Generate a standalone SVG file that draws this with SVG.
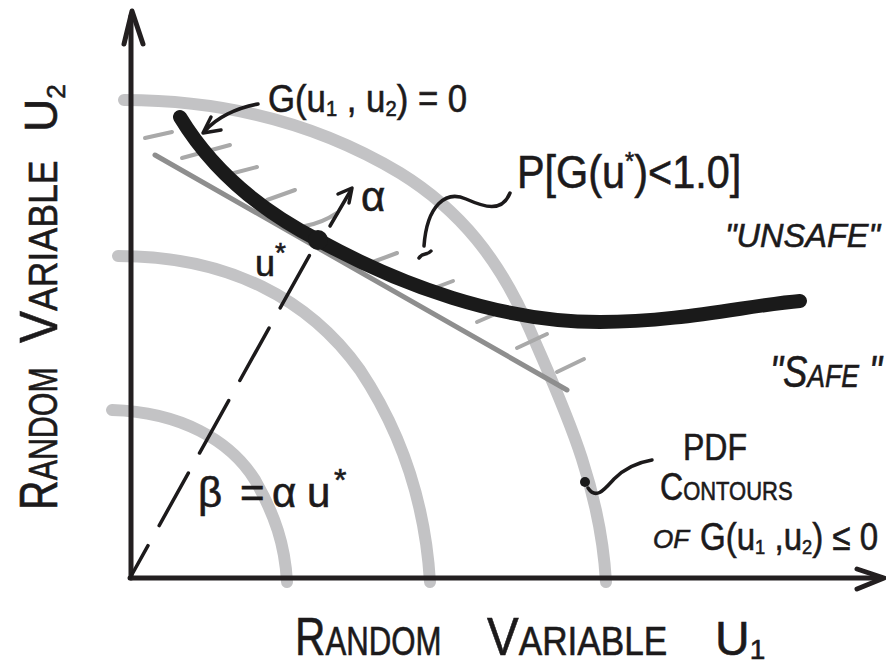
<svg xmlns="http://www.w3.org/2000/svg" width="886" height="667" viewBox="0 0 886 667">
<style>
  text { font-family: "Liberation Sans", "DejaVu Sans", sans-serif; fill: #1c1a1b; stroke: #1c1a1b; stroke-width: 0.6; }
  .contour { fill: none; stroke: #c3c3c5; stroke-width: 12; stroke-linecap: round; stroke-linejoin: round; }
  .axis { fill: none; stroke: #231f20; stroke-width: 5; stroke-linecap: round; stroke-linejoin: round; }
  .limit { fill: none; stroke: #1a1a1a; stroke-width: 14; stroke-linecap: round; }
  .tangent { fill: none; stroke: #8e8e8e; stroke-width: 5; stroke-linecap: round; }
  .hatch { fill: none; stroke: #a9a9a9; stroke-width: 4; stroke-linecap: round; }
  .lead { fill: none; stroke: #1c1a1b; stroke-width: 3.5; stroke-linecap: round; stroke-linejoin: round; }
</style>
<rect width="886" height="667" fill="#ffffff"/>

<g id="pdf-contours">
  <path class="contour" d="M112,410 C180,412 230,440 255,480 C275,515 285,545 287,582"/>
  <path class="contour" d="M118,256 C230,256 310,300 360,370 C400,430 425,500 430,582"/>
  <path class="contour" d="M124,100 C230,100 320,125 400,173 C460,210 500,260 530,330 C560,400 600,480 606,582"/>
</g>

<g id="hatching">
  <path class="hatch" d="M145,138 L172,132"/>
  <path class="hatch" d="M182,158 L230,145"/>
  <path class="hatch" d="M230,174 L257,167"/>
  <path class="hatch" d="M267,200 L295,190"/>
  <path class="hatch" d="M305,226 Q322,223 337,213"/>
  <path class="hatch" d="M370,263 L397,253"/>
  <path class="hatch" d="M437,287 L453,281"/>
  <path class="hatch" d="M477,322 L493,315"/>
  <path class="hatch" d="M517,348 L547,334"/>
  <path class="hatch" d="M557,372 L584,359"/>
</g>

<g id="tangent-line">
  <path class="tangent" d="M155,155 L567,390"/>
</g>

<g id="axes">
  <path class="axis" d="M131,578 L131,16"/>
  <path class="axis" d="M124,44 L132,11 L143,44" stroke-width="6"/>
  <path class="axis" d="M130,578 L880,578"/>
  <path class="axis" d="M857,569 L884,578 L857,589" stroke-width="6"/>
</g>

<g id="limit-state">
  <path class="limit" d="M180,117 C200,150 240,200 318,240 C400,285 500,322 600,322 C680,322 750,305 800,301"/>
</g>

<g id="connectors">
  <path class="lead" d="M130,578 L318,240" stroke-width="3" stroke-dasharray="60 23" stroke-dashoffset="23"/>
  <path class="lead" d="M258,104 C236,108 216,118 205,131"/>
  <path class="lead" d="M221,130 L203,133 L211,117"/>
  <path class="lead" d="M330,226 L351,190"/>
  <path class="lead" d="M338,194 L352,188 L349,203"/>
  <path class="lead" stroke-width="3" d="M510,193 C502,213 484,207 466,199 C446,190 427,205 424,246"/>
  <path class="lead" stroke-width="3" d="M419,258 C423,252 427,256 431,251"/>
  <path class="lead" stroke-width="3" d="M588,488 C596,500 604,490 614,479 C626,467 640,462 652,460"/>
</g>

<g id="design-point">
  <circle cx="318" cy="240" r="10" fill="#1a1a1a"/>
  <circle cx="585" cy="482" r="5" fill="#1a1a1a"/>
</g>

<g id="labels">
  <text transform="translate(268,112) scale(0.915,1)" font-size="38">G(u<tspan font-size="22" dy="4">1</tspan><tspan dy="-4"> , u</tspan><tspan font-size="22" dy="4">2</tspan><tspan dy="-4">) = 0</tspan></text>
  <text transform="translate(517,188) scale(0.9,1)" font-size="46">P[G(u<tspan font-size="26" dy="-18">*</tspan><tspan dy="18">)&lt;1.0]</tspan></text>
  <text x="361" y="211" font-size="42">α</text>
  <text x="255" y="276" font-size="36">u<tspan font-size="28" dy="-14">*</tspan></text>
  <text x="198" y="507" font-size="42">β<tspan x="240">=</tspan><tspan x="272">α</tspan><tspan x="307">u</tspan><tspan x="334" dy="-16" font-size="32">*</tspan></text>
  <text x="725" y="247" font-size="33" font-style="italic" textLength="155" lengthAdjust="spacingAndGlyphs">"UNSAFE"</text>
  <text transform="translate(770,387) scale(0.83,1)" font-size="44" font-style="italic">"S<tspan font-size="32">AFE</tspan> "</text>
  <text x="683" y="460" font-size="37" textLength="64" lengthAdjust="spacingAndGlyphs">PDF</text>
  <text transform="translate(660,500) scale(0.845,1)" font-size="38">C<tspan font-size="26">ONTOURS</tspan></text>
  <text x="653" y="548" font-size="26" font-style="italic">OF</text>
  <text transform="translate(700,550) scale(0.87,1)" font-size="38">G(u<tspan font-size="21" dy="4">1</tspan><tspan dy="-4"> ,u</tspan><tspan font-size="21" dy="4">2</tspan><tspan dy="-4">) ≤ 0</tspan></text>
  <g id="x-axis-label">
    <text transform="translate(295,655) scale(0.78,1)" font-size="54">R<tspan font-size="40">ANDOM</tspan></text>
    <text transform="translate(487,655) scale(0.88,1)" font-size="54">V<tspan font-size="40">ARIABLE</tspan></text>
    <text x="715" y="655" font-size="48">U<tspan font-size="28" dy="4">1</tspan></text>
  </g>
  <g id="y-axis-label" transform="translate(57,510) rotate(-90)">
    <text transform="scale(0.76,1)" font-size="54">R<tspan font-size="40">ANDOM</tspan></text>
    <text transform="translate(167,0) scale(0.89,1)" font-size="54">V<tspan font-size="40">ARIABLE</tspan></text>
    <text x="378" y="0" font-size="46">U<tspan font-size="26" dy="8">2</tspan></text>
  </g>
</g>
</svg>
